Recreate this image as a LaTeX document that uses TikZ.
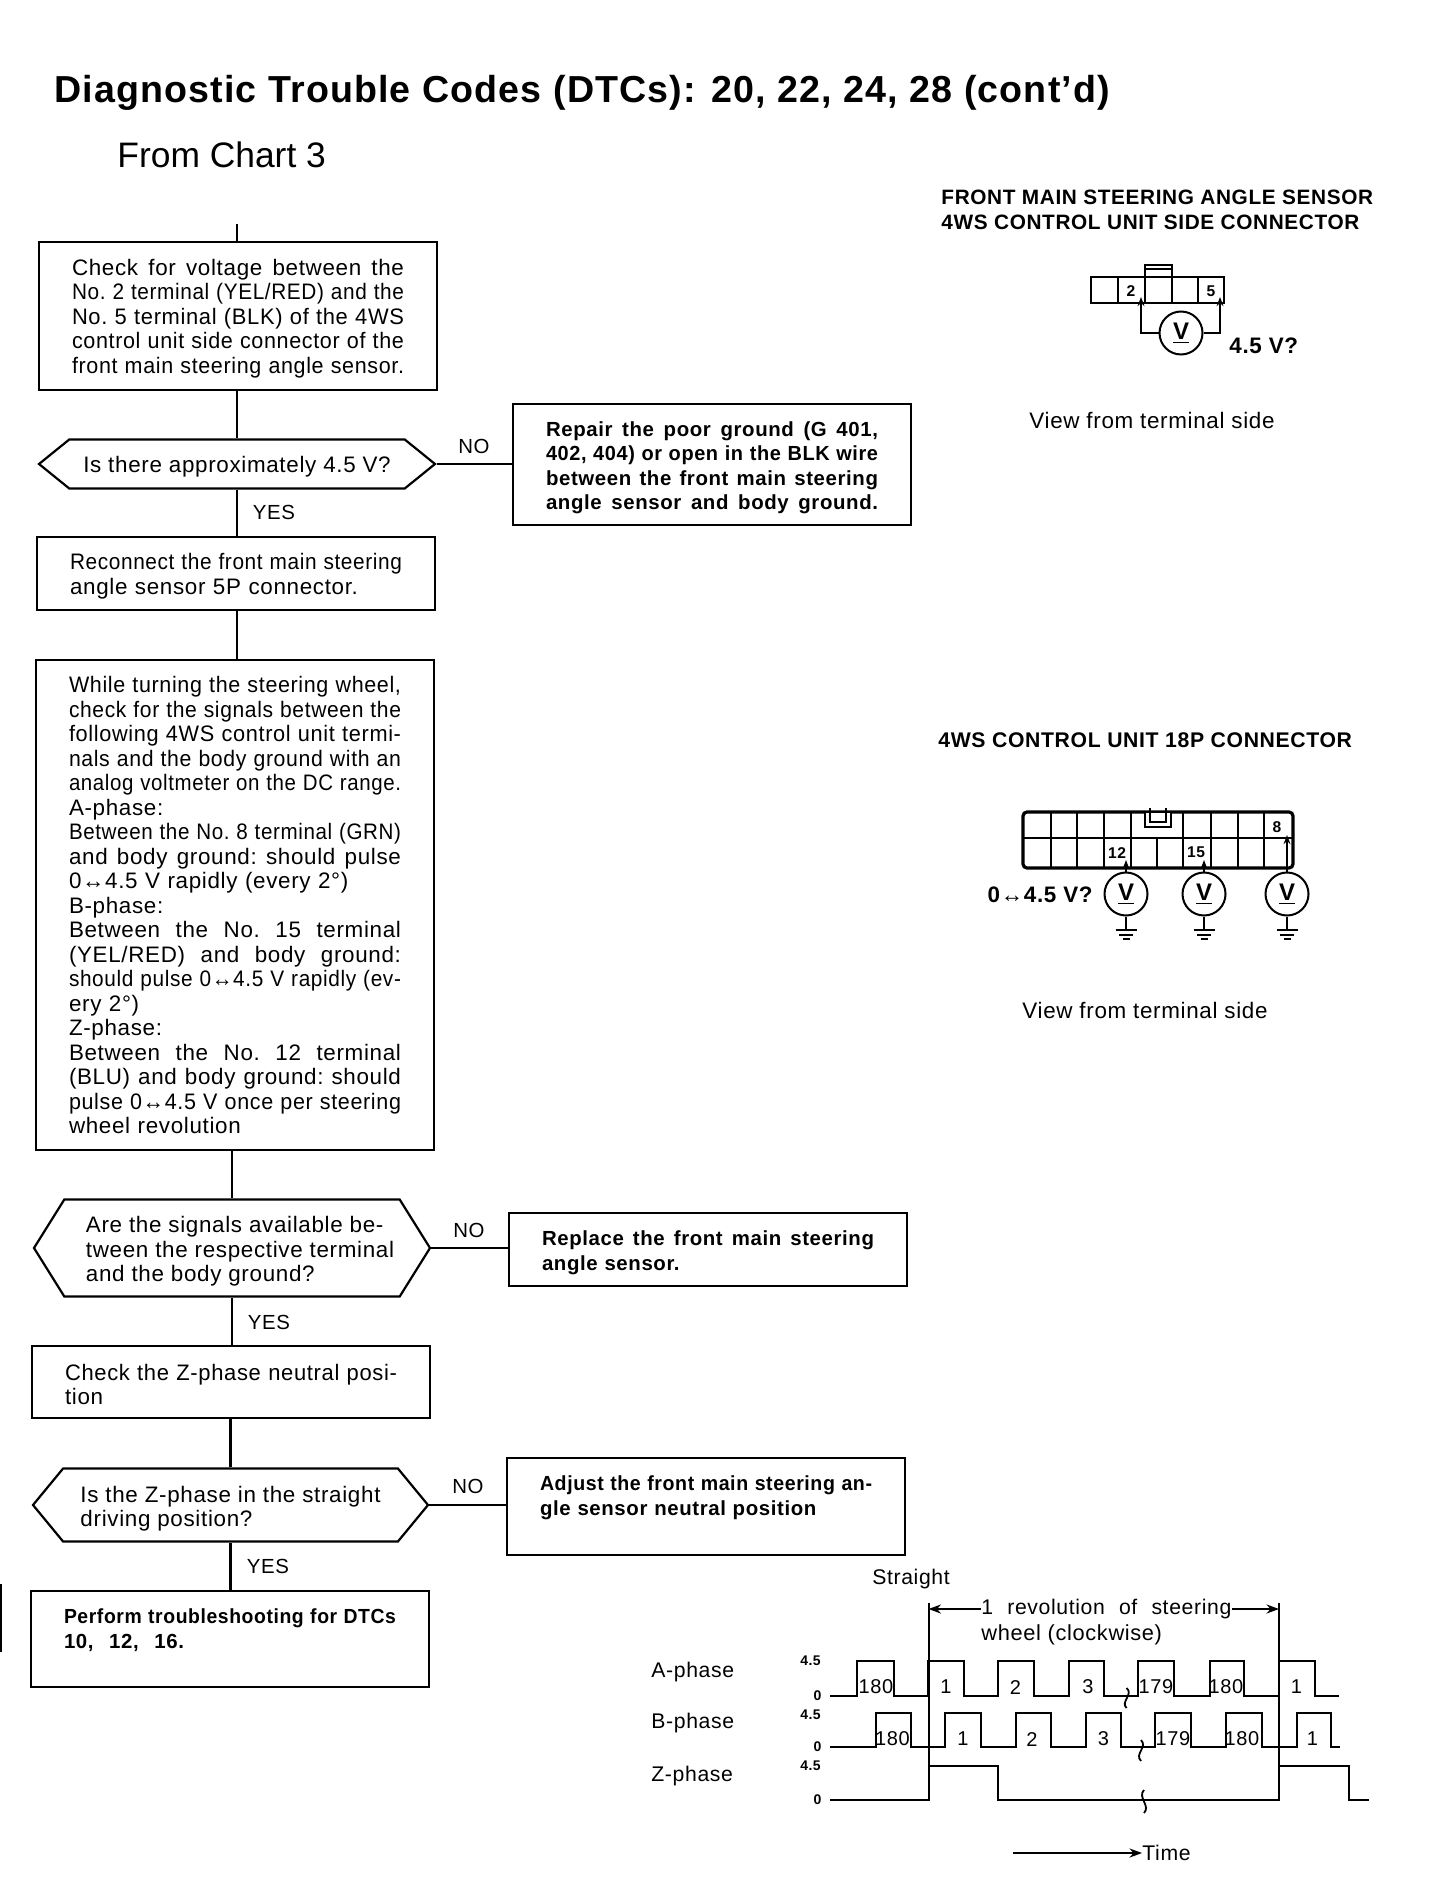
\documentclass[tikz,border=0pt]{standalone}
\usepackage{fontspec}
\setmainfont{Liberation Sans}[LetterSpace=3]
\usepackage{tikz}
\usetikzlibrary{arrows.meta,positioning,shapes.symbols}
\newsavebox{\jlbox}
\newcommand{\jl}[1]{\sbox{\jlbox}{#1}\ifdim\wd\jlbox>\hsize
  \resizebox{\hsize}{\height}{\usebox{\jlbox}}\else
  \makebox[\hsize][s]{\spaceskip=.3em plus 1fil\relax #1}\fi}
\newcommand{\gndmark}[1]{\draw[line width=1pt] (#1) ++(-10.5,0) -- ++(21,0)
  (#1) ++(-7,4.5) -- ++(14,0) (#1) ++(-3.5,9) -- ++(7,0);}
\tikzset{
  x=0.5pt, y=-0.5pt,
  blk/.style={draw, line width=1.1pt, inner xsep=16.5pt, inner ysep=0pt, text width=166pt, text height=10.6pt,
              align=left, font=\frenchspacing\fontsize{11.2}{12.25}\selectfont},
  bblk/.style={blk, font=\frenchspacing\fontsize{10.2}{12.25}\selectfont\bfseries},
  dec/.style={draw, line width=1.1pt, shape=signal, signal to=west and east, inner sep=0pt, text height=10.6pt,
              align=left, font=\frenchspacing\fontsize{11.2}{12.25}\selectfont},
  flow/.style={line width=1.1pt},
  ans/.style={font=\fontsize{10.2}{12}\selectfont},
  capt/.style={font=\fontsize{10.4}{12.4}\selectfont\bfseries, align=left},
  side/.style={font=\fontsize{11.2}{12}\selectfont},
  vm/.style={draw, circle, line width=1pt, minimum size=21.5pt, inner sep=0pt,
             font=\fontsize{12}{12}\selectfont\bfseries},
  probe/.style={line width=0.8pt, -{Stealth[length=1.6mm,width=1.2mm]}},
  conn/.style={line width=1.1pt},
  pin/.style={font=\fontsize{7.8}{8}\selectfont\bfseries, inner sep=0pt},
  wave/.style={line width=1pt},
  wlab/.style={font=\fontsize{10.6}{12}\selectfont, inner sep=0pt},
  lvl/.style={font=\fontsize{7}{8}\selectfont\bfseries, inner sep=0pt},
  cnt/.style={font=\fontsize{10}{12}\selectfont, inner sep=0pt},
  dimarr/.style={line width=0.9pt, -{Stealth[length=2.2mm,width=1.6mm]}},
}
\begin{document}
\begin{tikzpicture}
  \useasboundingbox (0,0) rectangle (1440,1898);
  \node[anchor=west, inner sep=0pt, font=\fontsize{18.8}{20}\selectfont\bfseries] (title) at (54,93)
    {Diagnostic Trouble Codes (DTCs): 20, 22, 24, 28 (cont’d)};
  \node[anchor=west, inner sep=0pt, font=\fontsize{17.7}{20}\selectfont\addfontfeature{LetterSpace=0}] (from) at (117,155) {From Chart 3};

  % flow column
  \coordinate (start) at (237,224);
  \node[blk, minimum height=74pt] (chk) at (238,316) {
    \jl{Check for voltage between the}\\
    \jl{No. 2 terminal (YEL/RED) and the}\\
    \jl{No. 5 terminal (BLK) of the 4WS}\\
    \jl{control unit side connector of the}\\
    \jl{front main steering angle sensor.}};
  \node[dec, minimum width=198pt, minimum height=24.5pt, signal pointer angle=78] (dec1) at (237,464)
    {Is there approximately 4.5 V?};
  \node[bblk, minimum height=60.5pt] (rep) at (712,464.5) {
    \jl{Repair the poor ground (G 401,}\\
    \jl{402, 404) or open in the BLK wire}\\
    \jl{between the front main steering}\\
    \jl{angle sensor and body ground.}};
  \node[blk, minimum height=36.5pt] (recon) at (236,573.5) {
    \jl{Reconnect the front main steering}\\
    angle sensor 5P connector.};
  \node[blk, minimum height=245pt, text height=8.2pt] (sig) at (235,905) {
    \jl{While turning the steering wheel,}\\
    \jl{check for the signals between the}\\
    \jl{following 4WS control unit termi-}\\
    \jl{nals and the body ground with an}\\
    \jl{analog voltmeter on the DC range.}\\
    A-phase:\\
    \jl{Between the No. 8 terminal (GRN)}\\
    \jl{and body ground: should pulse}\\
    0↔4.5 V rapidly (every 2°)\\
    B-phase:\\
    \jl{Between the No. 15 terminal}\\
    \jl{(YEL/RED) and body ground:}\\
    \jl{should pulse 0↔4.5 V rapidly (ev-}\\
    ery 2°)\\
    Z-phase:\\
    \jl{Between the No. 12 terminal}\\
    \jl{(BLU) and body ground: should}\\
    \jl{pulse 0↔4.5 V once per steering}\\
    wheel revolution};
  \node[dec, minimum width=198pt, minimum height=48.5pt, signal pointer angle=116, text height=36pt] (dec2) at (232,1248) {
    \hspace*{8pt}Are the signals available be-\\
    \hspace*{8pt}tween the respective terminal\\
    \hspace*{8pt}and the body ground?};
  \node[bblk, minimum height=36.5pt] (repl) at (708,1249.5) {
    \jl{Replace the front main steering}\\
    angle sensor.};
  \node[blk, minimum height=36pt] (zchk) at (231,1382) {
    \jl{Check the Z-phase neutral posi-}\\
    tion};
  \node[dec, minimum width=197.5pt, minimum height=36.5pt, signal pointer angle=101, text height=23.9pt] (dec3) at (230.5,1505) {
    Is the Z-phase in the straight\\
    driving position?};
  \node[bblk, minimum height=48.5pt, text depth=26.4pt] (adj) at (706,1506.5) {
    \jl{Adjust the front main steering an-}\\
    gle sensor neutral position};
  \node[bblk, minimum height=48.25pt, text depth=25.9pt] (perf) at (230,1639) {
    \jl{Perform troubleshooting for DTCs}\\
    \makebox[60pt][s]{\spaceskip=.3em plus 1fil\relax 10, 12, 16.}};

  \draw[flow] (start) -- (start |- chk.north);
  \draw[flow] (dec1.north) -- (dec1.north |- chk.south);
  \draw[flow] (dec1.south) -- (dec1.south |- recon.north);
  \draw[flow] (dec1.east) -- (rep.west |- dec1.east);
  \draw[flow] (recon.south -| dec1.north) -- (sig.north -| dec1.north);
  \draw[flow] (dec2.north) -- (dec2.north |- sig.south);
  \draw[flow] (dec2.south) -- (dec2.south |- zchk.north);
  \draw[flow] (dec2.east) -- (repl.west |- dec2.east);
  \draw[flow] (dec3.north) -- (dec3.north |- zchk.south);
  \draw[flow] (dec3.south) -- (dec3.south |- perf.north);
  \draw[flow] (dec3.east) -- (adj.west |- dec3.east);
  \node[ans] (no1) at (474,446) {NO};
  \node[ans] (yes1) at (274,512) {YES};
  \node[ans] (no2) at (469,1230) {NO};
  \node[ans] (yes2) at (269,1322) {YES};
  \node[ans] (no3) at (468,1486) {NO};
  \node[ans] (yes3) at (268,1566) {YES};

  % scan edge
  \draw[line width=0.6pt] (1,1584) -- (1,1652);

  % 5P connector
  \node[capt, anchor=west, inner sep=0pt] (cap5) at (941,209.5)
    {FRONT MAIN STEERING ANGLE SENSOR\\4WS CONTROL UNIT SIDE CONNECTOR};
  \draw[conn] (1091,277) rectangle (1224,303);
  \draw[conn] (1118,277) -- (1118,303) (1145,277) -- (1145,303) (1172,277) -- (1172,303) (1198,277) -- (1198,303);
  \draw[line width=0.8pt] (1145,277) -- (1145,265) -- (1172,265) -- (1172,277) (1145,269) -- (1172,269);
  \node[pin] (p2) at (1131,291) {2};
  \node[pin] (p5) at (1211,291) {5};
  \node[vm] (v5) at (1181,333) {\underline{V}};
  \coordinate (t2) at (1141,297);
  \coordinate (t5) at (1220,297);
  \draw[probe] (v5.west) -| (t2);
  \draw[probe] (v5.east) -| (t5);
  \node[anchor=west, inner sep=0pt, font=\fontsize{11.2}{12}\selectfont\bfseries] (v5val) at (1229,346) {4.5 V?};
  \node[side] (view1) at (1152,420) {View from terminal side};

  % 18P connector
  \node[anchor=west, inner sep=0pt, font=\fontsize{10.6}{12}\selectfont\bfseries] (cap18) at (938,740)
    {4WS CONTROL UNIT 18P CONNECTOR};
  \draw[line width=1.6pt, rounded corners=2pt] (1023,868) -- (1023,812) -- (1293,812) -- (1293,868) -- cycle;
  \draw[line width=0.9pt] (1023,838) -- (1293,838);
  \draw[line width=0.9pt] (1051,812) -- (1051,868) (1077,812) -- (1077,868) (1104,812) -- (1104,868)
    (1131,812) -- (1131,868) (1183,812) -- (1183,868) (1211,812) -- (1211,868)
    (1238,812) -- (1238,868) (1264,812) -- (1264,868) (1157,838) -- (1157,868);
  \draw[line width=0.9pt, fill=white] (1145,812) rectangle (1171,827);
  \draw[line width=0.9pt] (1150,808) -- (1150,822) -- (1166,822) -- (1166,808);
  \node[pin] (p12) at (1117,853) {12};
  \node[pin] (p15) at (1196,852) {15};
  \node[pin] (p8) at (1277,827) {8};
  \node[vm] (v12) at (1126,894) {\underline{V}};
  \node[vm] (v15) at (1204,894) {\underline{V}};
  \node[vm] (v8) at (1287,894) {\underline{V}};
  \coordinate (t12) at (1126,860);
  \coordinate (t15) at (1204,860);
  \coordinate (t8) at (1287,835);
  \draw[probe] (v12.north) -- (t12);
  \draw[probe] (v15.north) -- (t15);
  \draw[probe] (v8.north) -- (t8);
  \coordinate (g12) at (1126,930);
  \coordinate (g15) at (1204,930);
  \coordinate (g8) at (1287,930);
  \draw[line width=0.8pt] (v12.south) -- (g12) (v15.south) -- (g15) (v8.south) -- (g8);
  \gndmark{g12}
  \gndmark{g15}
  \gndmark{g8}
  \node[anchor=east, inner sep=0pt, font=\fontsize{11.2}{12}\selectfont\bfseries] (v12val) at (1093,895) {0↔4.5 V?};
  \node[side] (view2) at (1145,1010) {View from terminal side};

  % time chart
  \node[wlab] (stt) at (911,1579) {Straight};
  \node[wlab, anchor=west] (rev1) at (981,1609) {\makebox[125pt][s]{1 revolution of steering}};
  \node[wlab, anchor=west, font=\fontsize{10.9}{12}\selectfont] (rev2) at (981,1635) {wheel (clockwise)};
  \coordinate (rl) at (928.5,1603);
  \coordinate (rr) at (1279,1603);
  \draw[wave] (rl) -- (928.5,1800);
  \draw[wave] (rr) -- (1279,1800);
  \draw[dimarr] (rev1.west) -- (rl |- rev1.west);
  \draw[dimarr] (rev1.east) -- (rr |- rev1.east);
  \node[wlab, anchor=west] (alab) at (651,1672) {A-phase};
  \node[wlab, anchor=west] (blab) at (651,1723) {B-phase};
  \node[wlab, anchor=west] (zlab) at (651,1776) {Z-phase};
  \node[lvl] (a45) at (810.5,1661) {4.5};
  \node[lvl] (b45) at (810.5,1715) {4.5};
  \node[lvl] (z45) at (810.5,1766) {4.5};
  \node[lvl] (a0) at (817.5,1696) {0};
  \node[lvl] (b0) at (817.5,1747) {0};
  \node[lvl] (z0) at (817.5,1800) {0};
  \draw[wave] (830,1696) -| (857,1661) -| (894,1696) -| (928,1661) -| (964,1696) -| (998,1661) -| (1034,1696)
    -| (1069,1661) -| (1104,1696) -| (1138,1661) -| (1174,1696) -| (1210,1661) -| (1244,1696) -| (1279,1661)
    -| (1315,1696) -- (1339,1696);
  \draw[wave] (830,1747) -| (876,1713) -| (910.5,1747) -| (945,1713) -| (981,1747) -| (1016,1713) -| (1051,1747)
    -| (1086,1713) -| (1121,1747) -| (1155,1713) -| (1191,1747) -| (1226,1713) -| (1262,1747) -| (1297,1713)
    -| (1331,1747) -- (1340,1747);
  \draw[wave] (830,1800) -| (928.5,1766) -| (998,1800) -| (1279,1766) -| (1349,1800) -- (1369,1800);
  \draw[line width=0.9pt] (1126.5,1688) .. controls (1134,1694) and (1120,1702) .. (1126.5,1708);
  \draw[line width=0.9pt] (1141,1740) .. controls (1148,1747) and (1134,1754) .. (1141,1761);
  \draw[line width=0.9pt] (1144,1790) .. controls (1137,1797) and (1151,1806) .. (1144,1813);
  \node[cnt] (a180) at (876,1687) {180};
  \node[cnt] (a1) at (946,1687) {1};
  \node[cnt] (a2) at (1015.5,1687) {2};
  \node[cnt] (a3) at (1088,1687) {3};
  \node[cnt] (a179) at (1156,1687) {179};
  \node[cnt] (a180b) at (1226,1687) {180};
  \node[cnt] (a1b) at (1296.5,1687) {1};
  \node[cnt] (b180) at (892.5,1739) {180};
  \node[cnt] (b1) at (963,1739) {1};
  \node[cnt] (b2) at (1032,1739) {2};
  \node[cnt] (b3) at (1103.5,1739) {3};
  \node[cnt] (b179) at (1173,1739) {179};
  \node[cnt] (b180b) at (1242,1739) {180};
  \node[cnt] (b1b) at (1312.5,1739) {1};
  \coordinate (ts) at (1013,1853);
  \node[wlab, anchor=west] (ttxt) at (1142,1853) {Time};
  \draw[dimarr] (ts) -- (ttxt.west);
\end{tikzpicture}
\end{document}
